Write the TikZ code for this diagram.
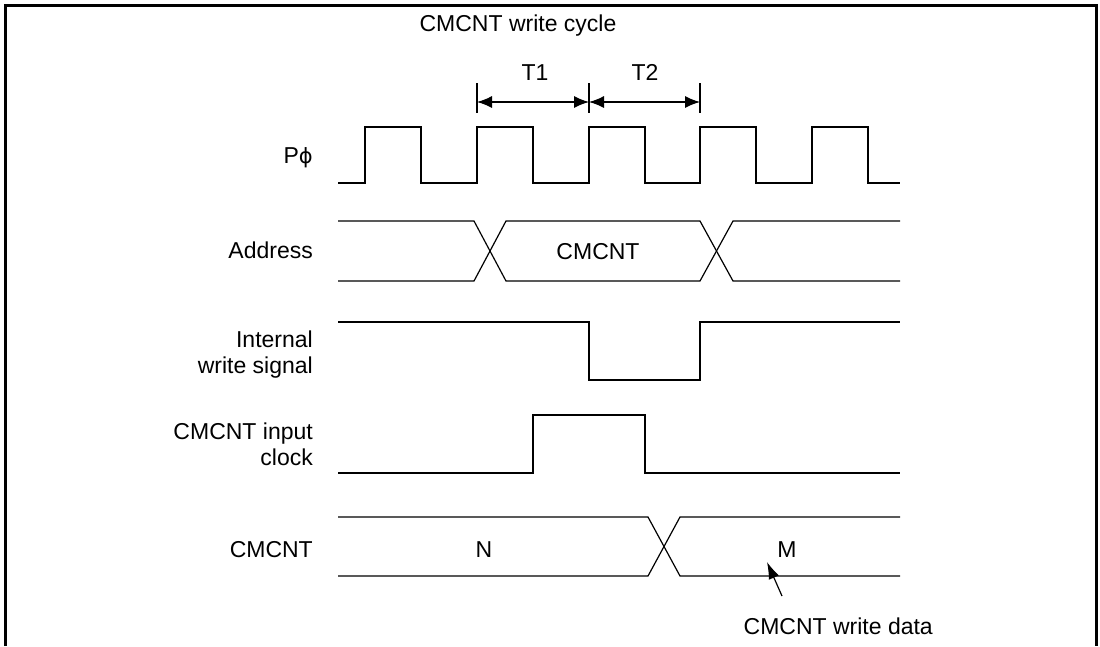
\documentclass[tikz,border=0pt]{standalone}
\usepackage{fontspec}
\setmainfont{Liberation Sans}
\newfontfamily\dejavu{DejaVu Sans}
\usetikzlibrary{arrows.meta}
\begin{document}
\begin{tikzpicture}[x=1pt,y=-1pt,
  sig/.style={line width=1.2pt},
  lbl/.style={font=\fontsize{23}{26}\selectfont, inner sep=0pt},
  dimarrow/.style={line width=1.2pt, {Latex[length=15pt,width=12pt]}-{Latex[length=15pt,width=12pt]}},
  ptr/.style={line width=1.2pt, -{Latex[length=17pt,width=11pt]}}]
\useasboundingbox (0,0) rectangle (1100,646);
% frame
\draw[line width=3pt] (5,646) -- (5,5) -- (1096,5) -- (1096,646);
% title and labels
\node[lbl, anchor=base] (title) at (518,31) {CMCNT write cycle};
\node[lbl, anchor=base] (t1) at (535,80) {T1};
\node[lbl, anchor=base] (t2) at (645,80) {T2};
\node[lbl, anchor=base east] (lphi) at (313,163) {P{\dejavu\fontsize{21}{26}\selectfont ϕ}};
\node[lbl, anchor=base east] (laddr) at (313,258) {Address};
\node[lbl, anchor=base east, align=right] (lint) at (313,373) {Internal\\write signal};
\node[lbl, anchor=base east, align=right] (lclk) at (313,465) {CMCNT input\\clock};
\node[lbl, anchor=base east] (lcnt) at (313,557) {CMCNT};
\node[lbl, anchor=base] (vaddr) at (598,259) {CMCNT};
\node[lbl, anchor=base] (vn) at (484,557) {N};
\node[lbl, anchor=base] (vm) at (787,557) {M};
\node[lbl, anchor=base east] (wdata) at (933,634) {CMCNT write data};
% dimension marks
\coordinate (k1a) at (477,83); \coordinate (k1b) at (477,113);
\coordinate (k2a) at (589,83); \coordinate (k2b) at (589,113);
\coordinate (k3a) at (700,83); \coordinate (k3b) at (700,113);
\draw[sig] (k1a) -- (k1b);
\draw[sig] (k2a) -- (k2b);
\draw[sig] (k3a) -- (k3b);
\coordinate (d1) at (477,102); \coordinate (d2) at (589,102); \coordinate (d3) at (700,102);
\draw[dimarrow] (d1) -- (d2);
\draw[dimarrow] (d2) -- (d3);
% P phi clock
\draw[sig] (338,183) -- (365,183) -- (365,127) -- (421,127) -- (421,183) -- (477,183) -- (477,127) -- (533,127) -- (533,183) -- (589,183) -- (589,127) -- (645,127) -- (645,183) -- (700,183) -- (700,127) -- (756,127) -- (756,183) -- (812,183) -- (812,127) -- (868,127) -- (868,183) -- (900,183);
% Address
\draw[sig] (338,221) -- (474,221) -- (506,281) -- (700,281) -- (733,221) -- (900,221);
\draw[sig] (338,281) -- (474,281) -- (506,221) -- (700,221) -- (733,281) -- (900,281);
% Internal write signal
\draw[sig] (338,322) -- (589,322) -- (589,380) -- (700,380) -- (700,322) -- (900,322);
% CMCNT input clock
\draw[sig] (338,473) -- (533,473) -- (533,415) -- (645,415) -- (645,473) -- (900,473);
% CMCNT
\draw[sig] (338,517) -- (648,517) -- (680,576) -- (900,576);
\draw[sig] (338,576) -- (648,576) -- (680,517) -- (900,517);
% pointer
\coordinate (ptail) at (782,596);
\coordinate (ptip) at (767,562);
\draw[ptr] (ptail) -- (ptip);
\end{tikzpicture}
\end{document}
